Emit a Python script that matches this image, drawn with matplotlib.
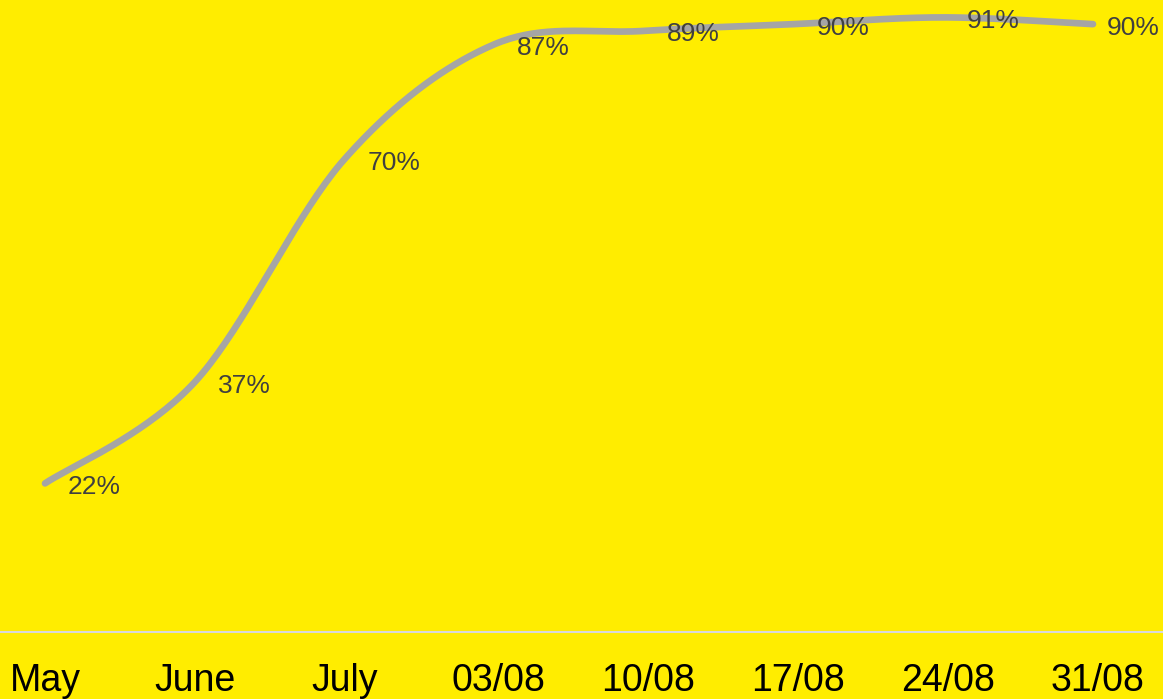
import numpy as np
import matplotlib
matplotlib.use("Agg")
import matplotlib.pyplot as plt
from matplotlib.transforms import ScaledTranslation

categories = ["May", "June", "July", "03/08", "10/08", "17/08", "24/08", "31/08"]
values = [22, 37, 70, 87, 89, 90, 91, 90]
labels = ["22%", "37%", "70%", "87%", "89%", "90%", "91%", "90%"]

BG = "#FFED00"
LINE = "#A5A5A5"

plt.rcParams['font.family'] = ['Liberation Sans', 'DejaVu Sans']

fig = plt.figure(figsize=(11.63, 6.99), dpi=100, facecolor=BG)
ax = fig.add_axes([0, 67 / 699, 1, 632 / 699])
ax.set_facecolor(BG)

x = np.arange(len(values), dtype=float)
y = np.array(values, dtype=float)

# Excel-like smoothing: cubic Bezier with Catmull-Rom control points
xs, ys = [], []
n = len(x)
for i in range(n - 1):
    p0 = np.array([x[max(i - 1, 0)], y[max(i - 1, 0)]])
    p1 = np.array([x[i], y[i]])
    p2 = np.array([x[i + 1], y[i + 1]])
    p3 = np.array([x[min(i + 2, n - 1)], y[min(i + 2, n - 1)]])
    c1 = p1 + (p2 - p0) / 6.0
    c2 = p2 - (p3 - p1) / 6.0
    t = np.linspace(0, 1, 40)[:, None]
    pts = ((1 - t) ** 3) * p1 + 3 * ((1 - t) ** 2) * t * c1 + 3 * (1 - t) * t ** 2 * c2 + t ** 3 * p2
    if i > 0:
        pts = pts[1:]
    xs.extend(pts[:, 0])
    ys.extend(pts[:, 1])

ax.plot(xs, ys, color=LINE, lw=4.8, solid_capstyle='round', clip_on=False, zorder=3)

xmin = -45 / 149.7
xmax = 7 + 70 / 149.7
ax.set_xlim(xmin, xmax)
ax.set_ylim(0, 632 / 6.754)

for i, (xi, yi, lab) in enumerate(zip(x, y, labels)):
    dx = 23 if i < n - 1 else 14
    ax.annotate(lab, (xi, yi), xytext=(dx * 0.72, -3.5 * 0.72), textcoords='offset points',
                ha='left', va='center', fontsize=19, color='#404040', zorder=4,
                annotation_clip=False)

ax.set_xticks(x)
ax.set_xticklabels(categories, fontsize=27, color='black')
ax.tick_params(axis='x', length=0, pad=22)
for i, tl in enumerate(ax.get_xticklabels()):
    if i >= 3:
        tl.set_transform(tl.get_transform() + ScaledTranslation(0.045, 0, fig.dpi_scale_trans))
ax.set_yticks([])
for s in ['top', 'left', 'right']:
    ax.spines[s].set_visible(False)
ax.spines['bottom'].set_color('#D9D9D9')
ax.spines['bottom'].set_linewidth(1.5)

fig.savefig("out.png", dpi=100, facecolor=BG)
